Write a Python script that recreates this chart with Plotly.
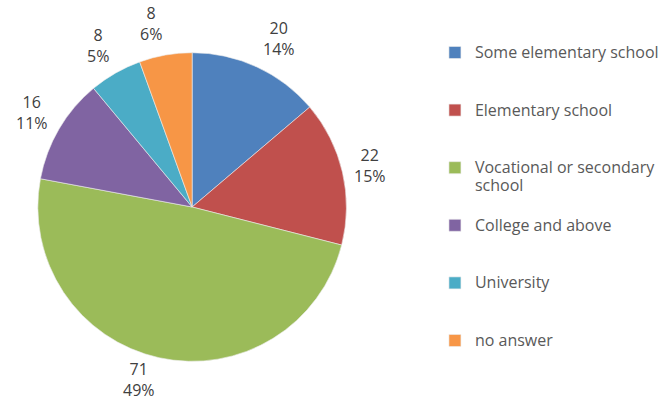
import math
import plotly.graph_objects as go

# Education level of respondents
categories = [
    "Some elementary school",
    "Elementary school",
    "Vocational or secondary<br>school",
    "College and above",
    "University",
    "no answer",
]
counts = [20, 22, 71, 16, 8, 8]
percent_labels = ["14%", "15%", "49%", "11%", "5%", "6%"]
colors = ["#4F81BD", "#C0504D", "#9BBB59", "#8064A2", "#4BACC6", "#F79646"]

W, H = 664, 401
# pie placement in pixels (centre from the top-left corner) and radius
CX, CY, R = 193, 207, 155
LABEL_GAP = 10      # gap between the pie edge and the label box
LABEL_HALF_H = 21   # half height of a two-line data label

TEXT_STYLE = "font-size:16px"


def legend_entry(label, lines=3):
    parts = label.split("<br>")
    styled = [f"<span style='{TEXT_STYLE}'>{p}</span>" for p in parts]
    return "<br>".join(styled) + "<br> " * (lines - len(parts))


legend_labels = [legend_entry(c) for c in categories]

fig = go.Figure(
    go.Pie(
        labels=legend_labels,
        values=counts,
        textinfo="none",
        sort=False,
        direction="clockwise",
        rotation=0,
        marker=dict(colors=colors, line=dict(color="#EDEDED", width=0.6)),
        domain=dict(
            x=[(CX - R) / W, (CX + R) / W],
            y=[(H - CY - R) / H, (H - CY + R) / H],
        ),
        hoverinfo="value+percent",
    )
)

# value / percentage labels: the label box sits just outside the slice's
# mid-angle point, on the side facing away from the pie
total = sum(counts)
cum = 0.0
for v, pct in zip(counts, percent_labels):
    mid = (cum + v / 2) / total * 2 * math.pi
    cum += v
    s, c = math.sin(mid), math.cos(mid)
    px = CX + (R + LABEL_GAP) * s
    py = CY - (R + LABEL_GAP) * c - LABEL_HALF_H * c
    py = min(max(py, LABEL_HALF_H + 1), H - LABEL_HALF_H - 1)
    fig.add_annotation(
        x=px / W,
        y=1 - py / H,
        xref="paper",
        yref="paper",
        text=f"{v}<br>{pct}",
        showarrow=False,
        xanchor="left" if s > 0 else "right",
        yanchor="middle",
        align="center",
        font=dict(family="Open Sans, sans-serif", size=16, color="#404040"),
    )

fig.update_layout(
    width=W,
    height=H,
    margin=dict(l=0, r=0, t=0, b=0),
    paper_bgcolor="white",
    plot_bgcolor="white",
    showlegend=True,
    legend=dict(
        x=0.658,
        y=0.908,
        xanchor="left",
        yanchor="top",
        valign="top",
        font=dict(family="Open Sans, sans-serif", size=14, color="#595959"),
        itemwidth=30,
        traceorder="normal",
    ),
)

fig.write_html("out.html")
